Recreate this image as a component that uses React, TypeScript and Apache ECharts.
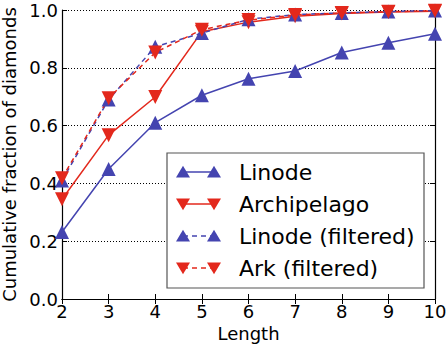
import React, { useEffect, useRef } from "react";
import * as echarts from "echarts";

const lengths = [2, 3, 4, 5, 6, 7, 8, 9, 10];
const linode = [0.232, 0.45, 0.61, 0.705, 0.762, 0.789, 0.853, 0.887, 0.918];
const archipelago = [0.345, 0.567, 0.699, 0.925, 0.958, 0.978, 0.988, 0.993, 0.996];
const linodeFiltered = [0.41, 0.69, 0.873, 0.92, 0.968, 0.984, 0.99, 0.995, 0.998];
const arkFiltered = [0.418, 0.695, 0.853, 0.932, 0.965, 0.983, 0.99, 0.994, 0.997];
const seriesNames = ["Linode", "Archipelago", "Linode (filtered)", "Ark (filtered)"];

const BLUE = "#4444b0";
const RED = "#e3281c";
const FONT = "DejaVu Sans";

export default function App() {
  const ref = useRef<HTMLDivElement>(null);
  useEffect(() => {
    if (!ref.current) return;
    const chart = echarts.init(ref.current, undefined, { renderer: "svg" });
    const pair = (ys: number[]) => lengths.map((x, i) => [x, ys[i]]);
    const defs = [
      { name: seriesNames[0], data: linode, color: BLUE, up: true, dash: false },
      { name: seriesNames[1], data: archipelago, color: RED, up: false, dash: false },
      { name: seriesNames[2], data: linodeFiltered, color: BLUE, up: true, dash: true },
      { name: seriesNames[3], data: arkFiltered, color: RED, up: false, dash: true },
    ];
    const series = defs.map((d) => ({
      name: d.name,
      type: "line",
      data: pair(d.data),
      symbol: "triangle",
      symbolSize: 14,
      symbolRotate: d.up ? 0 : 180,
      itemStyle: { color: d.color },
      lineStyle: { color: d.color, width: 1.5, type: d.dash ? [5, 4] : "solid" },
      clip: false,
      z: 3,
    }));

    // legend drawn with graphic
    const lx = 167, ly = 153, lw = 257, lh = 135;
    const legendEls: any[] = [
      { type: "rect", shape: { x: lx, y: ly, width: lw, height: lh }, style: { fill: "#fff", stroke: "#555", lineWidth: 1.2 }, z: 10 },
    ];
    defs.forEach((d, i) => {
      const cy = 172 + i * 32;
      const tri = (cx: number) => {
        const s = 7;
        const pts = d.up
          ? [[cx - s, cy + s * 0.8], [cx + s, cy + s * 0.8], [cx, cy - s * 0.9]]
          : [[cx - s, cy - s * 0.8], [cx + s, cy - s * 0.8], [cx, cy + s * 0.9]];
        return { type: "polygon", shape: { points: pts }, style: { fill: d.color }, z: 12 };
      };
      legendEls.push({
        type: "line",
        shape: { x1: 183, y1: cy, x2: 214, y2: cy },
        style: { stroke: d.color, lineWidth: 1.5, lineDash: d.dash ? [5, 4] : null },
        z: 11,
      });
      legendEls.push(tri(183));
      legendEls.push(tri(214));
      legendEls.push({
        type: "text",
        x: 239,
        y: cy,
        style: { text: d.name, fill: "#000", font: `22px "${FONT}"`, textVerticalAlign: "middle" },
        z: 12,
      });
    });

    const axisCommon = {
      axisLine: { show: true, lineStyle: { color: "#000", width: 1.2 } },
      axisTick: { show: true, inside: true, length: 5, lineStyle: { color: "#000" } },
    };

    chart.setOption({
      animation: false,
      grid: { left: 62, right: 11, top: 10, bottom: 48, show: false, outerBoundsMode: "none", containLabel: false },
      xAxis: [
        {
          type: "value",
          min: 2,
          max: 10,
          interval: 1,
          name: "Length",
          nameLocation: "middle",
          nameGap: 25,
          nameTextStyle: { fontFamily: FONT, fontSize: 18, color: "#000" },
          axisLabel: { fontFamily: FONT, fontSize: 18, color: "#000", margin: 3 },
          splitLine: { show: false },
          ...axisCommon,
        },
        {
          type: "value",
          position: "top",
          min: 2,
          max: 10,
          interval: 1,
          axisLabel: { show: false },
          splitLine: { show: false },
          ...axisCommon,
        },
      ],
      yAxis: [
        {
          type: "value",
          min: 0,
          max: 1,
          interval: 0.2,
          name: "Cumulative fraction of diamonds",
          nameLocation: "middle",
          nameGap: 39,
          nameTextStyle: { fontFamily: FONT, fontSize: 18, color: "#000" },
          axisLabel: { fontFamily: FONT, fontSize: 18, color: "#000", margin: 4, formatter: (v: number) => v.toFixed(1) },
          splitLine: { show: true, lineStyle: { color: "#000", type: [1, 2], width: 1 } },
          ...axisCommon,
        },
        {
          type: "value",
          position: "right",
          min: 0,
          max: 1,
          interval: 0.2,
          axisLabel: { show: false },
          splitLine: { show: false },
          ...axisCommon,
        },
      ],
      series,
      graphic: legendEls,
    });
    return () => chart.dispose();
  }, []);
  return <div ref={ref} style={{ width: 446, height: 347, position: "absolute", left: 0, top: 0 }} />;
}
